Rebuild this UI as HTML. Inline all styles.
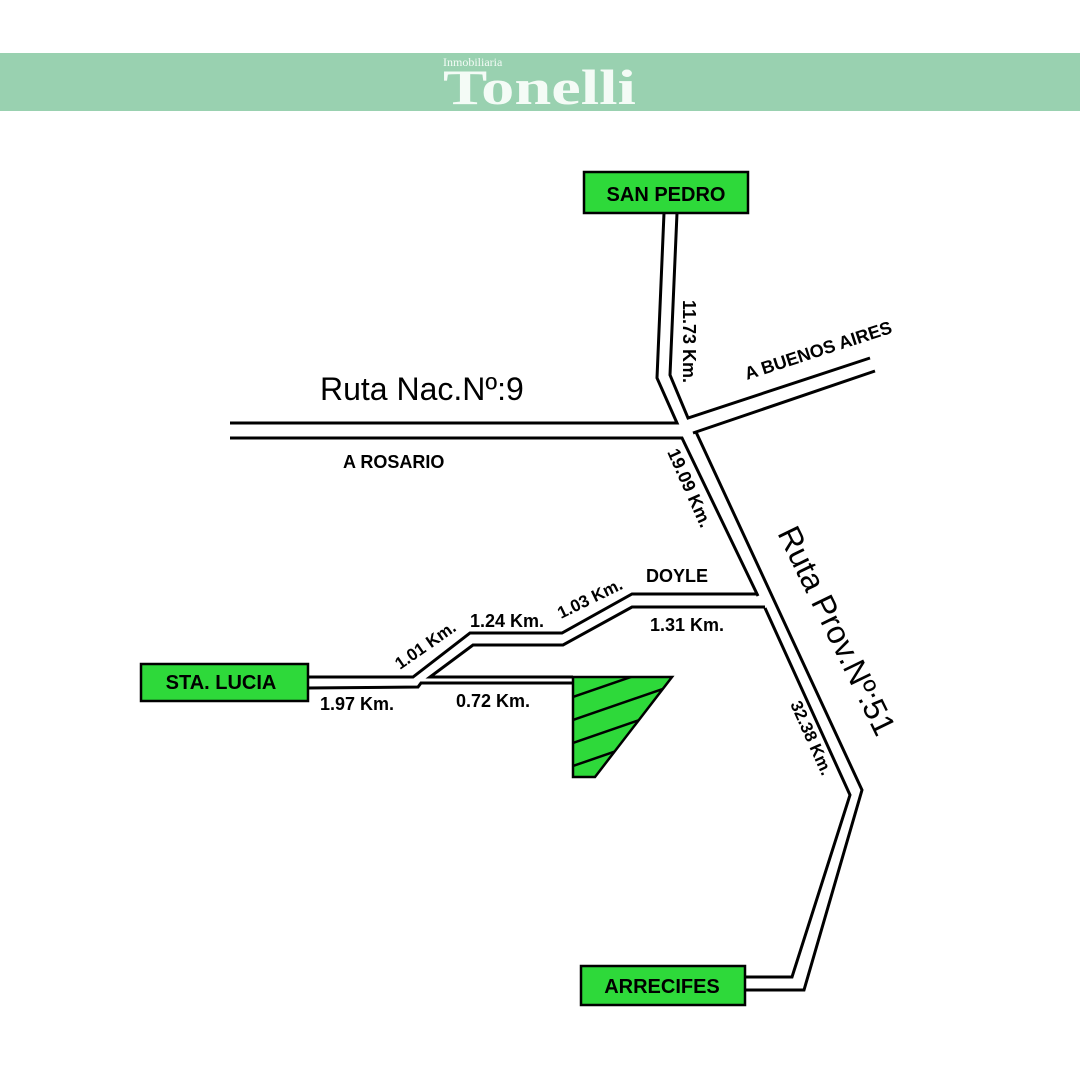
<!DOCTYPE html>
<html><head><meta charset="utf-8"><style>
body{margin:0;background:#fff;width:1080px;height:1080px;overflow:hidden}
svg{display:block}
.b{font-family:"Liberation Sans",Arial,sans-serif;font-weight:bold;fill:#000}
</style></head><body>
<svg width="1080" height="1080" viewBox="0 0 1080 1080">
<rect x="0" y="53" width="1080" height="58" fill="#99d1b0"/>
<text x="443" y="66" font-family="Liberation Serif,serif" font-size="12" fill="#f4fbf6">Inmobiliaria</text>
<text x="443" y="104" font-family="Liberation Serif,serif" font-weight="bold" font-size="50" fill="#f4fbf6" textLength="193" lengthAdjust="spacingAndGlyphs">Tonelli</text>

<g fill="none" stroke="#000" stroke-width="3" stroke-linejoin="miter">
<polyline points="664,213 657,378 677,423 230,423"/>
<polyline points="677,213 670,375 688,418 870,358"/>
<polyline points="693,433 875,371"/>
<polyline points="230,438 682,438 758,596"/>
<polyline points="696,432 862,790 804,990 745,990"/>
<polyline points="765,608 850,795 792,977 745,977"/>
<polyline points="758,594 632,594 562,633 470,633 413,677 307,677"/>
<polyline points="765,607 632,607 563,645 473,645 430,677 573,677"/>
<polyline points="307,688 418,687 421,683 573,683"/>
</g>
<defs><clipPath id="cp"><polygon points="573,677 672,677 595,777 573,777"/></clipPath></defs>
<polygon points="573,677 672,677 595,777 573,777" fill="#2ed93a" stroke="#000" stroke-width="2.5"/>
<g clip-path="url(#cp)" stroke="#000" stroke-width="2.5">
<line x1="573" y1="697" x2="680" y2="660"/>
<line x1="573" y1="720" x2="680" y2="683"/>
<line x1="573" y1="743" x2="680" y2="706"/>
<line x1="573" y1="766" x2="680" y2="729"/>
<line x1="573" y1="789" x2="680" y2="752"/>
</g>

<g stroke="#000" stroke-width="2.5" fill="#2ed93a">
<rect x="584" y="172" width="164" height="41"/>
<rect x="141" y="664" width="167" height="37"/>
<rect x="581" y="966" width="164" height="39"/>
</g>
<text class="b" x="666" y="201" font-size="20" text-anchor="middle">SAN PEDRO</text>
<text class="b" x="221" y="689" font-size="20" text-anchor="middle">STA. LUCIA</text>
<text class="b" x="662" y="993" font-size="20" text-anchor="middle">ARRECIFES</text>

<text x="320" y="400" font-family="Liberation Sans,sans-serif" font-size="32" fill="#000">Ruta Nac.Nº:9</text>
<text class="b" x="343" y="468" font-size="18">A ROSARIO</text>
<text class="b" font-size="18" transform="translate(683,300) rotate(90)">11.73 Km.</text>
<text class="b" font-size="18" transform="translate(747,380) rotate(-18)">A BUENOS AIRES</text>
<text class="b" font-size="18" transform="translate(667,452) rotate(66)">19.09 Km.</text>
<text font-family="Liberation Sans,sans-serif" font-size="32" fill="#000" transform="translate(777,533) rotate(64)">Ruta Prov.Nº:51</text>
<text class="b" font-size="17" transform="translate(790,704) rotate(66)">32.38 Km.</text>
<text class="b" x="646" y="582" font-size="18">DOYLE</text>
<text class="b" x="650" y="631" font-size="18">1.31 Km.</text>
<text class="b" font-size="17" transform="translate(400,670) rotate(-35)">1.01 Km.</text>
<text class="b" x="470" y="627" font-size="18">1.24 Km.</text>
<text class="b" font-size="17" transform="translate(561,619) rotate(-26)">1.03 Km.</text>
<text class="b" x="320" y="710" font-size="18">1.97 Km.</text>
<text class="b" x="456" y="707" font-size="18">0.72 Km.</text>
</svg>
</body></html>
